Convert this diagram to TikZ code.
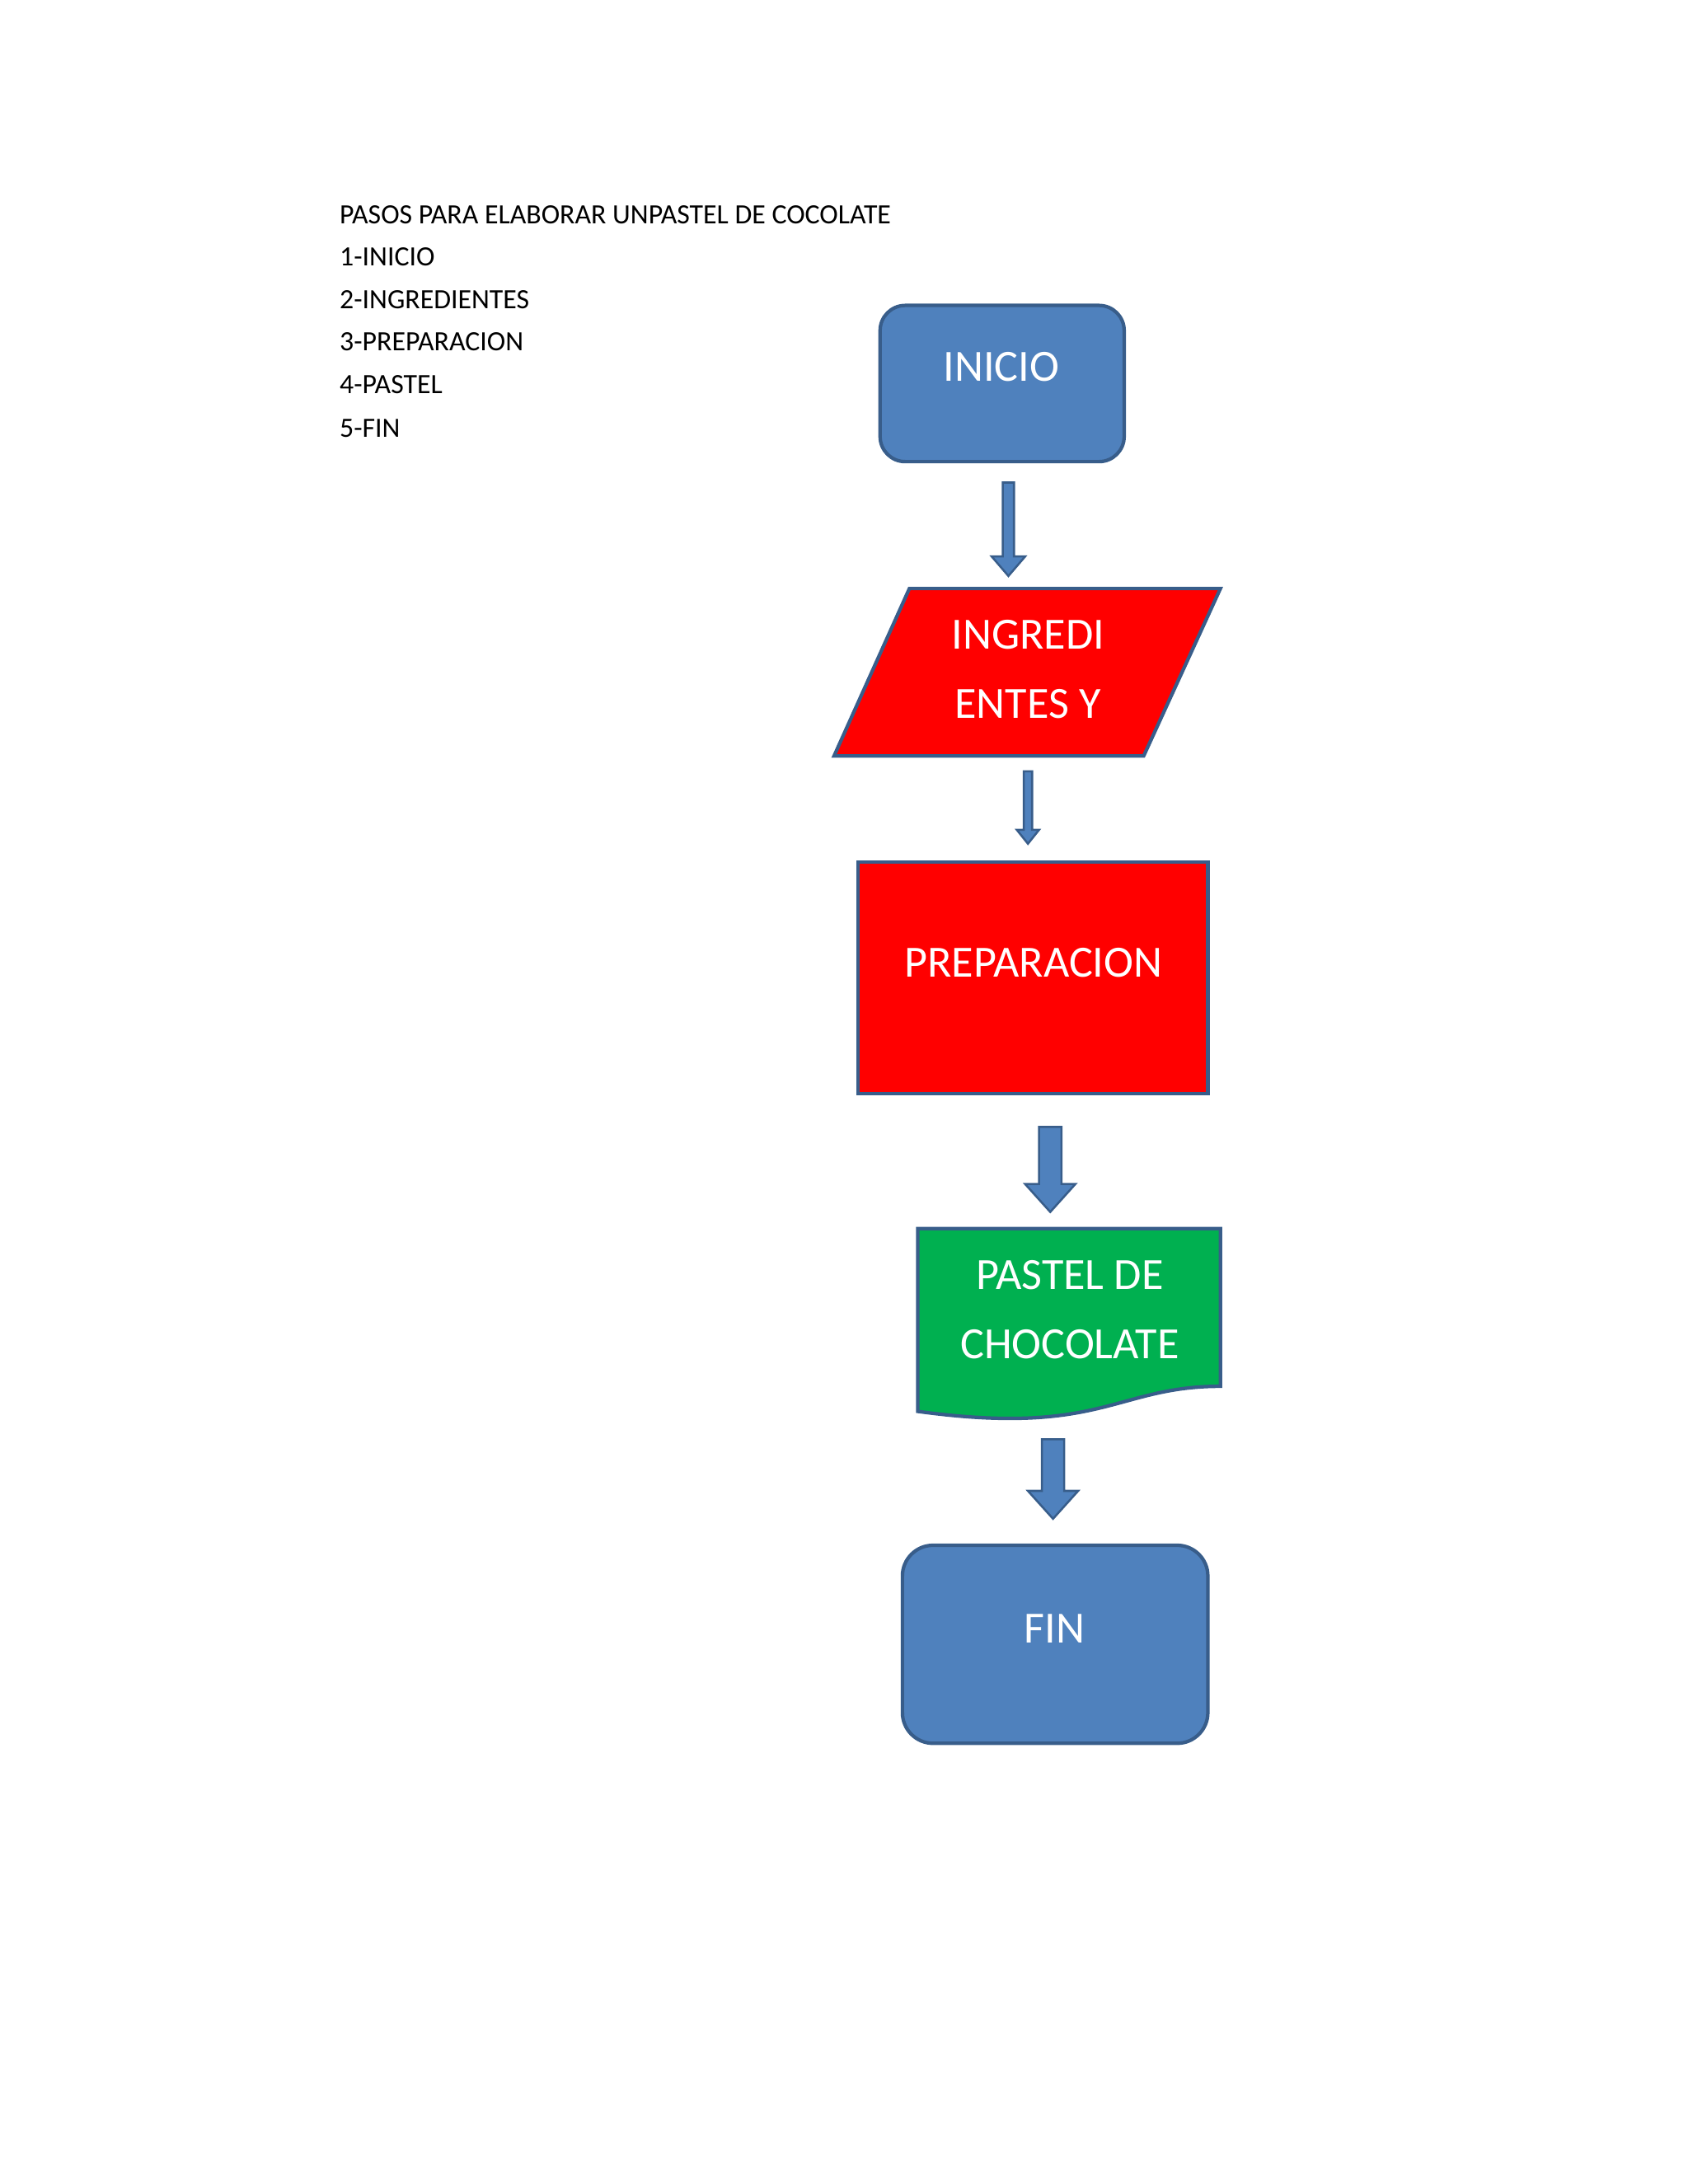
\documentclass[tikz,border=0pt]{standalone}
\usepackage{fontspec}
\setmainfont{Carlito}
\definecolor{fblue}{HTML}{4F81BD}
\definecolor{eblue}{HTML}{385D8A}
\definecolor{fgreen}{HTML}{00B050}
\newcommand\blockarrow[6]{% x, y1, y2, shaft half, head half, head len
  \filldraw[fill=fblue,draw=eblue,line width=1.5pt,line join=miter]
   (#1-#4,#2) -- (#1+#4,#2) -- (#1+#4,#3-#6) -- (#1+#5,#3-#6) -- (#1,#3)
   -- (#1-#5,#3-#6) -- (#1-#4,#3-#6) -- cycle;}
\begin{document}
\begin{tikzpicture}[x=1pt,y=-1pt,
  shp/.style={draw=eblue,line width=2.5pt},
  lbl/.style={text=white,font=\fontsize{32}{38}\selectfont},
  hdr/.style={anchor=west,font=\fontsize{20}{24}\selectfont}]
\useasboundingbox (0,0) rectangle (1210,1566);
\node[hdr] (h0) at (240,154) {PASOS PARA ELABORAR UNPASTEL DE COCOLATE};
\node[hdr] (h1) at (240,184) {1-INICIO};
\node[hdr] (h2) at (240,215) {2-INGREDIENTES};
\node[hdr] (h3) at (240,245) {3-PREPARACION};
\node[hdr] (h4) at (240,276) {4-PASTEL};
\node[hdr] (h5) at (240,307) {5-FIN};
% INICIO
\filldraw[shp,fill=fblue,rounded corners=18pt] (631,219) rectangle (806,331);
\node[lbl] (inicio) at (718,263) {INICIO};
\blockarrow{723}{346}{413}{4}{12}{14}
% parallelogram
\filldraw[shp,fill=red,line join=miter] (652,422) -- (875,422) -- (820,542) -- (598,542) -- cycle;
\node[lbl] (ing1) at (737,455) {INGREDI};
\node[lbl] (ing2) at (737,505) {ENTES Y};
\blockarrow{737}{553}{605}{3}{8}{10}
% PREPARACION
\filldraw[shp,fill=red] (615,618) rectangle (866,784);
\node[lbl] (prep) at (741,690) {PREPARACION};
\blockarrow{753}{808}{869}{8}{18}{20}
% document
\filldraw[shp,fill=fgreen,line join=miter] (658,881) -- (875,881) -- (875,994)
  .. controls (800,994) and (790,1030) .. (658,1012) -- cycle;
\node[lbl] (pas1) at (767,914) {PASTEL DE};
\node[lbl] (pas2) at (767,964) {CHOCOLATE};
\blockarrow{755}{1032}{1089}{8}{18}{20}
% FIN
\filldraw[shp,fill=fblue,rounded corners=22pt] (647,1108) rectangle (866,1250);
\node[lbl] (fin) at (756,1168) {FIN};
\end{tikzpicture}
\end{document}
